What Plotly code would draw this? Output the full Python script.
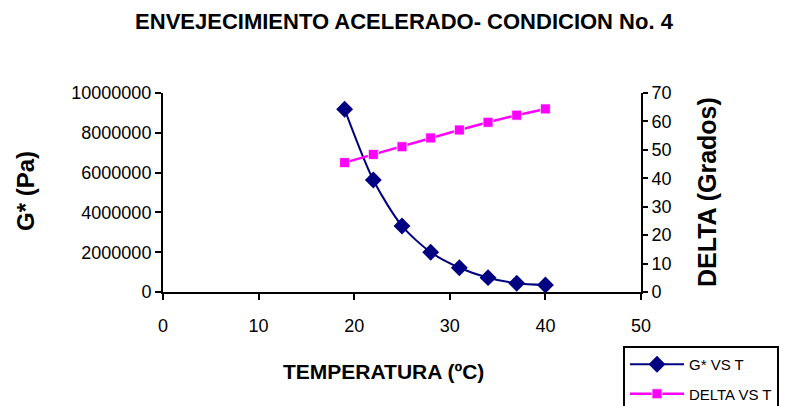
import plotly.graph_objects as go

temperature = [19, 22, 25, 28, 31, 34, 37, 40]
g_star = [9180000, 5630000, 3320000, 2000000, 1220000, 720000, 440000, 350000]
delta = [45.5, 48.4, 51.1, 54.2, 57.0, 59.7, 62.2, 64.4]

x_ticks = [0, 10, 20, 30, 40, 50]
y1_ticks = [0, 2000000, 4000000, 6000000, 8000000, 10000000]
y2_ticks = [0, 10, 20, 30, 40, 50, 60, 70]

FONT = "Liberation Sans, Arial, sans-serif"

# plot area in pixels (for placing titles)
L, R, T, B = 163, 641, 93, 292
W, H = R - L, B - T

def px(x):
    return (x - L) / W

def py(y):
    return (B - y) / H

fig = go.Figure()
fig.add_trace(go.Scatter(
    x=temperature, y=g_star, name="G* VS T", mode="lines+markers",
    legendgroup="g",
    line=dict(color="#000080", width=2, shape="spline", smoothing=0.8),
    marker=dict(symbol="diamond", size=13, color="#000080"),
    yaxis="y"))
fig.add_trace(go.Scatter(
    x=temperature, y=delta, name="DELTA VS T", mode="lines+markers",
    legendgroup="d",
    line=dict(color="#FF00FF", width=2.5),
    marker=dict(symbol="square", size=10, color="#FF00FF", line=dict(color="white", width=0.8)),
    yaxis="y2"))

fig.update_layout(
    width=796, height=406,
    margin=dict(l=L, r=796 - R, t=T, b=406 - B, autoexpand=False),
    paper_bgcolor="white", plot_bgcolor="white",
    font=dict(family=FONT, color="black", size=18),
    title=dict(text="<b>ENVEJECIMIENTO ACELERADO- CONDICION No. 4</b>",
               x=404 / 796, xanchor="center", y=1 - 21 / 406, yanchor="middle",
               font=dict(size=22, family=FONT)),
    xaxis=dict(range=[0, 50], tickvals=x_ticks, showgrid=False, zeroline=False,
               showline=True, linecolor="black", linewidth=2,
               ticks="outside", ticklen=6, tickwidth=2, tickcolor="black",
               ticklabelstandoff=10,
               tickfont=dict(size=18), automargin=False),
    yaxis=dict(range=[0, 10000000], tickvals=y1_ticks, showgrid=False, zeroline=False,
               showline=True, linecolor="black", linewidth=2,
               ticks="outside", ticklen=6, tickwidth=2, tickcolor="black",
               tickformat="d", tickfont=dict(size=18), automargin=False),
    yaxis2=dict(range=[0, 70], tickvals=y2_ticks, overlaying="y", side="right",
                showgrid=False, zeroline=False,
                showline=True, linecolor="black", linewidth=2,
                ticks="outside", ticklen=5, tickwidth=2, tickcolor="black",
                tickfont=dict(size=18), automargin=False),
    legend=dict(x=px(623), y=py(346), xanchor="left", yanchor="top",
                bordercolor="black", borderwidth=2, bgcolor="white",
                font=dict(size=15), tracegroupgap=7, itemwidth=54),
    showlegend=True,
    annotations=[
        dict(text="<b>TEMPERATURA (ºC)</b>", xref="paper", yref="paper",
             x=px(383), y=py(371), xanchor="center", yanchor="middle",
             showarrow=False, font=dict(size=21)),
        dict(text="<b>G* (Pa)</b>", xref="paper", yref="paper",
             x=px(25), y=py(191), xanchor="center", yanchor="middle",
             textangle=-90, showarrow=False, font=dict(size=24)),
        dict(text="<b>DELTA (Grados)</b>", xref="paper", yref="paper",
             x=px(707), y=py(192), xanchor="center", yanchor="middle",
             textangle=-90, showarrow=False, font=dict(size=25)),
    ],
)

fig.write_html("out.html")
